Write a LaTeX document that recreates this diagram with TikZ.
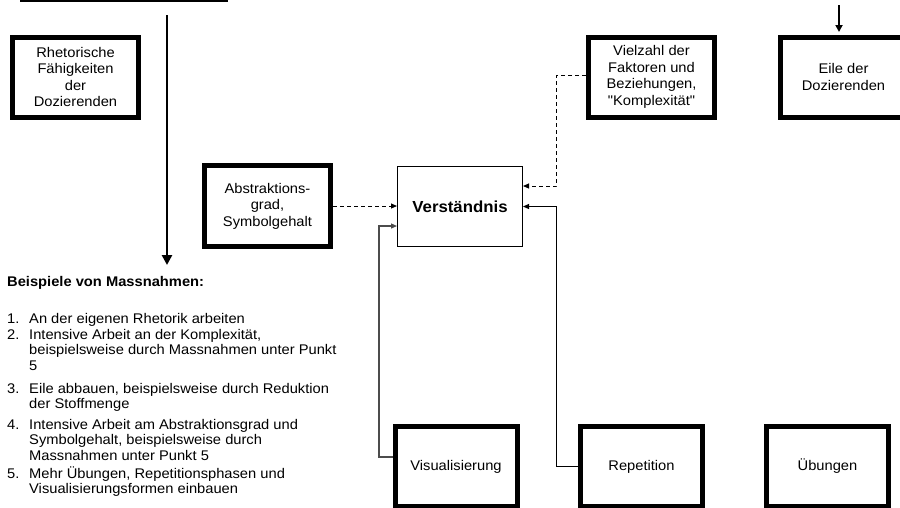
\documentclass[tikz,border=0pt]{standalone}
\usepackage{fontspec}
\setmainfont[FakeStretch=1.05,Ligatures=TeXOff]{Liberation Sans}
\usetikzlibrary{arrows.meta,calc}

\newcommand\dgboxfont{\fontsize{14}{16.5}\selectfont}
\newcommand\dglistfont{\fontsize{14}{15.8}\selectfont}

\begin{document}
\begin{tikzpicture}[x=1pt,y=-1pt,
  thickbox/.style={draw, line width=5pt, minimum width=126pt, minimum height=80pt,
    inner sep=0pt, align=center, font=\dgboxfont},
  lowbox/.style={thickbox, minimum width=122pt},
  thinbox/.style={draw, line width=1pt, minimum width=125pt, minimum height=80pt,
    inner sep=0pt, font=\fontsize{16}{18}\selectfont\bfseries},
  conn/.style={line width=1pt, -{Triangle[length=6pt,width=5pt]}},
  dashconn/.style={conn, dash pattern=on 4pt off 3pt},
  bigarrow/.style={line width=2.5pt, -{Triangle[length=10pt,width=10pt]}},
  midarrow/.style={line width=2pt, -{Triangle[length=7pt,width=7pt]}},
  listline/.style={anchor=base west, inner sep=0pt, font=\dglistfont},
]
\useasboundingbox (0,0) rectangle (900,507);
\clip (0,0) rectangle (900,507);

% edge of a box running off the top
\draw[line width=2pt] (20,1) -- (228,1);

% factor boxes
\node[thickbox] (rhet) at (75.5,77) {Rhetorische\\Fähigkeiten\\der\\Dozierenden};
\node[thickbox, minimum height=81pt] (abs) at (267.5,206) {Abstraktions-\\grad,\\Symbolgehalt};
\node[thickbox] (viel) at (651.5,77) {Vielzahl der\\Faktoren und\\Beziehungen,\\"Komplexität"};
\node[thickbox] (eile) at (843.5,77) {Eile der\\Dozierenden};
\node[thinbox] (ver) at (460,206.5) {Verständnis};
\node[lowbox] (vis) at (456,466.5) {Visualisierung};
\node[lowbox] (rep) at (641.5,466.5) {Repetition};
\node[lowbox] (ueb) at (827.5,466.5) {Übungen};

% connectors into Verständnis
\draw[dashconn] (abs.east) -- (ver.west |- abs.east);
\draw[conn, draw=black!70, line width=1.2pt] ($(vis.west)+(0,-9.5)$) -- ++(-13.5,0) |- ($(ver.west)+(0,19.5)$);
\draw[conn] (rep.west) -- ++(-21.5,0) |- (ver.east);
\draw[dashconn] (viel.west) ++(0,-1.5) -- ++(-29.5,0) |- ($(ver.east)+(0,-20.5)$);

% arrow down onto Eile der Dozierenden
\coordinate (eiletop) at (839,5);
\draw[midarrow] (eiletop) -- ($(eiletop |- eile.north)+(0,-2.5)$);

% measures list
\coordinate (maintop) at (167,15);
\coordinate (mainend) at (167,265);
\draw[bigarrow] (maintop) -- (mainend);

\node[listline, font=\dglistfont\bfseries] (head) at (7,286) {Beispiele von Massnahmen:};

\node[listline] (n1) at (7,323) {1.};
\node[listline] (t1) at (29,323) {\parbox[t]{420pt}{An der eigenen Rhetorik arbeiten}};
\node[listline] (n2) at (7,339) {2.};
\node[listline] (t2) at (29,339) {\parbox[t]{420pt}{Intensive Arbeit an der Komplexität,\\beispielsweise durch Massnahmen unter Punkt\\5}};
\node[listline] (n3) at (7,393) {3.};
\node[listline] (t3) at (29,393) {\parbox[t]{420pt}{Eile abbauen, beispielsweise durch Reduktion\\der Stoffmenge}};
\node[listline] (n4) at (7,429) {4.};
\node[listline] (t4) at (29,429) {\parbox[t]{420pt}{Intensive Arbeit am Abstraktionsgrad und\\Symbolgehalt, beispielsweise durch\\Massnahmen unter Punkt 5}};
\node[listline] (n5) at (7,478) {5.};
\node[listline] (t5) at (29,478) {\parbox[t]{420pt}{Mehr Übungen, Repetitionsphasen und\\Visualisierungsformen einbauen}};
\end{tikzpicture}
\end{document}
